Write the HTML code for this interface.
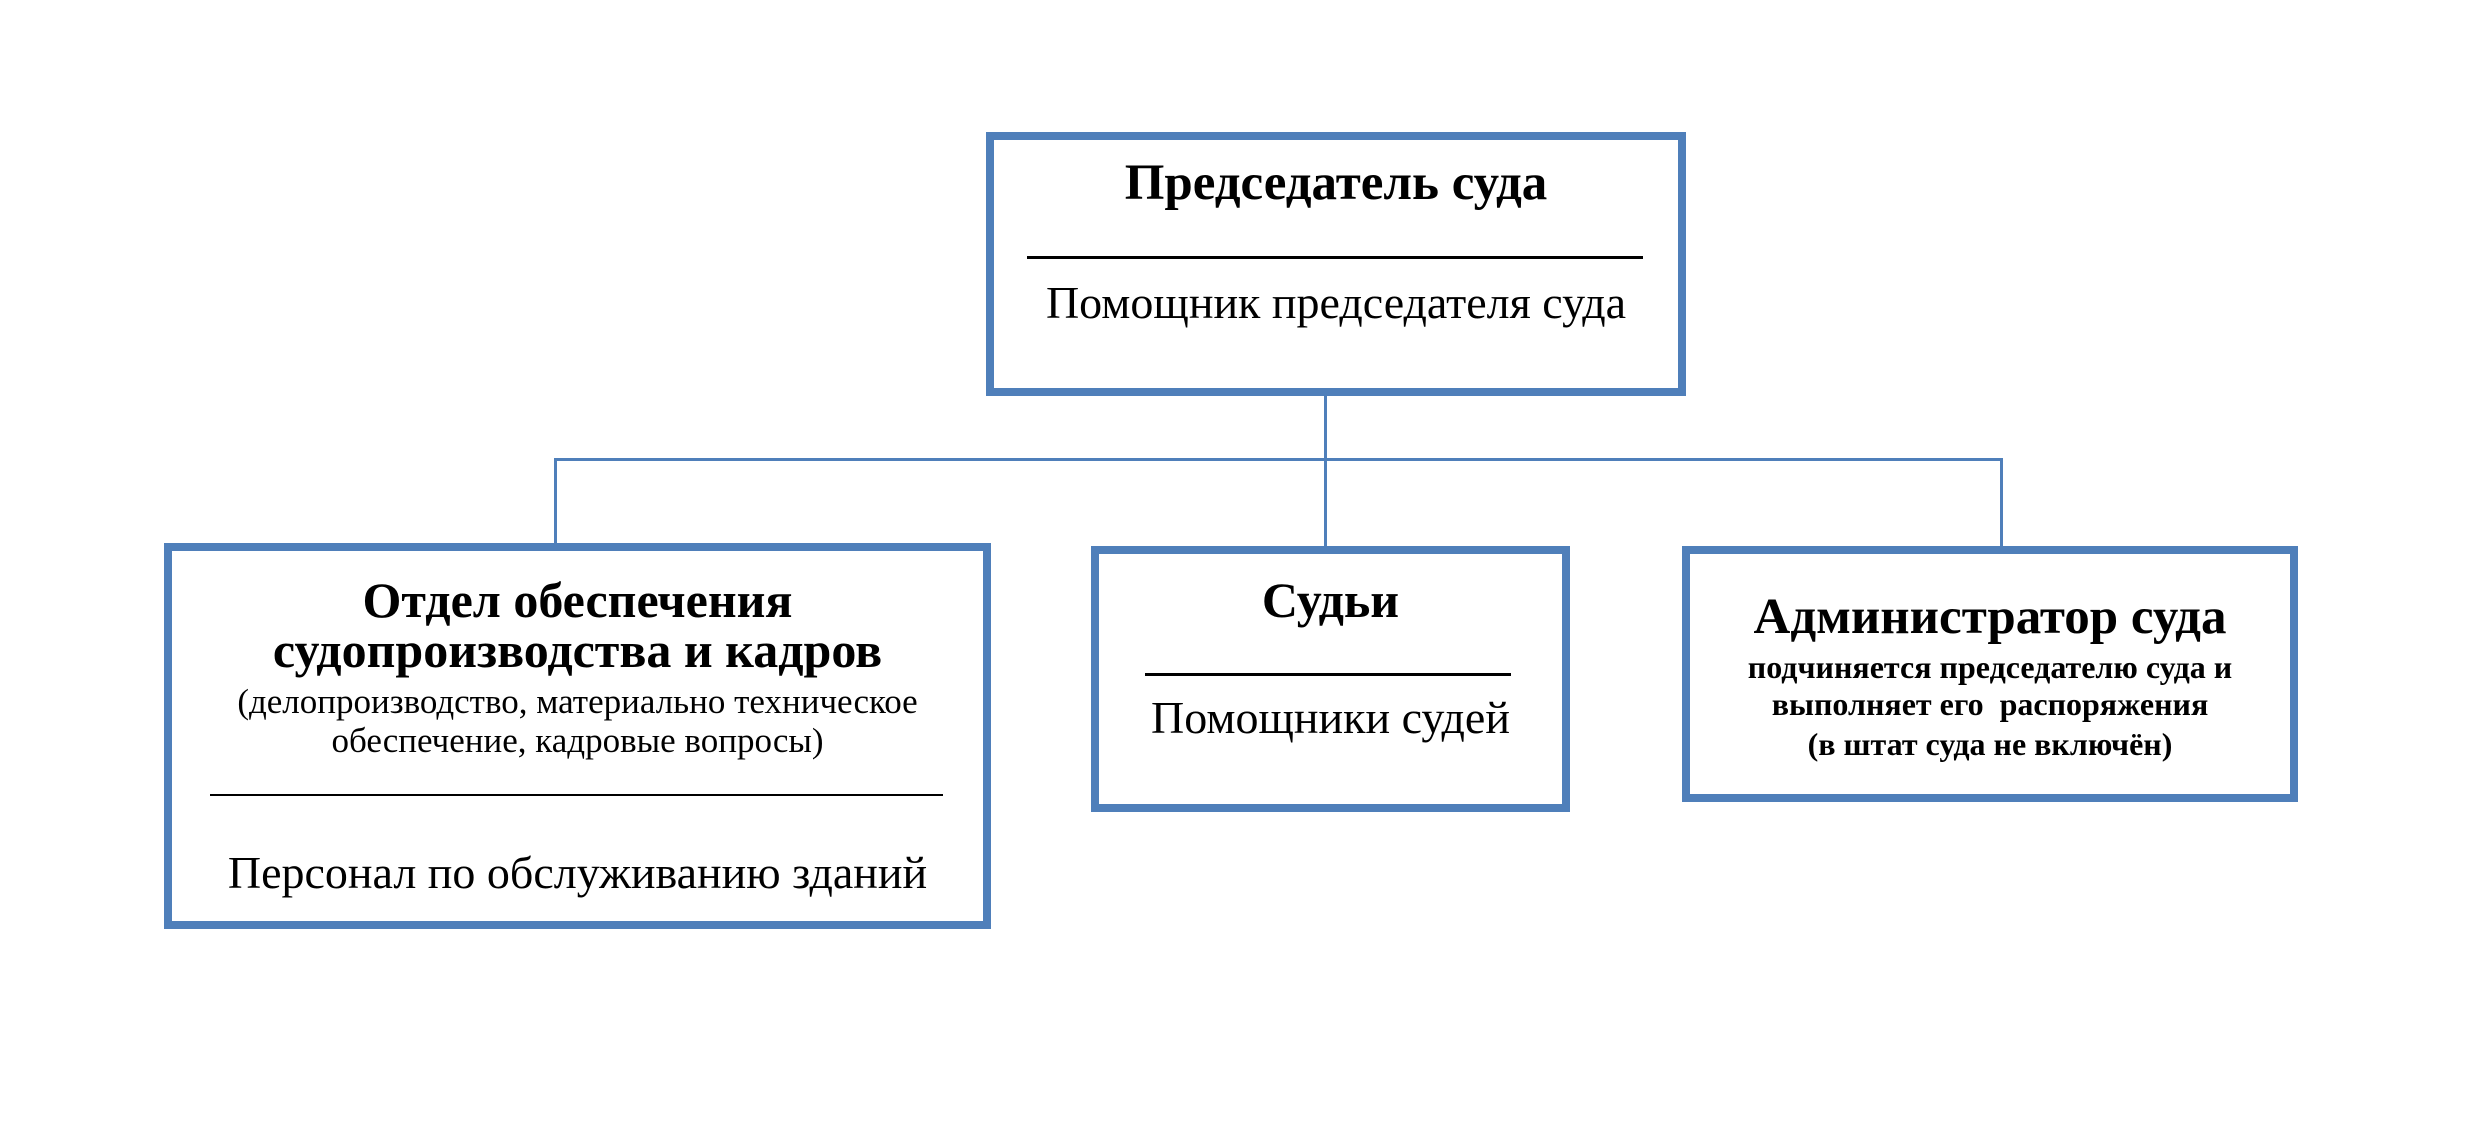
<!DOCTYPE html>
<html><head><meta charset="utf-8"><style>
body{margin:0;width:2472px;height:1129px;background:#fff;position:relative;overflow:hidden;font-family:"Liberation Serif","DejaVu Serif",serif;color:#000}
.box{position:absolute;border:8px solid #4f7fba;box-sizing:border-box;background:#fff}
.t{position:absolute;left:0;right:0;text-align:center;white-space:nowrap;line-height:1}
.b{font-weight:bold}
.ln{position:absolute;background:#000}
.c{position:absolute;background:#4f7fba}
</style></head><body>
<div class="c" style="left:1324px;top:394px;width:3px;height:155px"></div>
<div class="c" style="left:554px;top:458px;width:1449px;height:3px"></div>
<div class="c" style="left:554px;top:458px;width:3px;height:90px"></div>
<div class="c" style="left:2000px;top:458px;width:3px;height:90px"></div>

<div class="box" style="left:986px;top:132px;width:700px;height:264px"></div>
<div class="t b" style="left:986px;width:700px;top:158px;font-size:51px">Председатель суда</div>
<div class="ln" style="left:1027px;top:256px;width:616px;height:3px"></div>
<div class="t" style="left:986px;width:700px;top:280px;font-size:46px">Помощник председателя суда</div>

<div class="box" style="left:164px;top:543px;width:827px;height:386px"></div>
<div class="t b" style="left:164px;width:827px;top:575px;font-size:50px">Отдел обеспечения</div>
<div class="t b" style="left:164px;width:827px;top:625px;font-size:50px">судопроизводства и кадров</div>
<div class="t" style="left:164px;width:827px;top:684px;font-size:35px">(делопроизводство, материально техническое</div>
<div class="t" style="left:164px;width:827px;top:723px;font-size:35px">обеспечение, кадровые вопросы)</div>
<div class="ln" style="left:210px;top:794px;width:733px;height:2px"></div>
<div class="t" style="left:164px;width:827px;top:850px;font-size:46px">Персонал по обслуживанию зданий</div>

<div class="box" style="left:1091px;top:546px;width:479px;height:266px"></div>
<div class="t b" style="left:1091px;width:479px;top:575px;font-size:50px">Судьи</div>
<div class="ln" style="left:1145px;top:673px;width:366px;height:3px"></div>
<div class="t" style="left:1091px;width:479px;top:695px;font-size:46px">Помощники судей</div>

<div class="box" style="left:1682px;top:546px;width:616px;height:256px"></div>
<div class="t b" style="left:1682px;width:616px;top:592px;font-size:51px">Администратор суда</div>
<div class="t b" style="left:1682px;width:616px;top:651px;font-size:32px">подчиняется председателю суда и</div>
<div class="t b" style="left:1682px;width:616px;top:688px;font-size:32px">выполняет его&nbsp; распоряжения</div>
<div class="t b" style="left:1682px;width:616px;top:728px;font-size:32px">(в штат суда не включён)</div>
</body></html>
